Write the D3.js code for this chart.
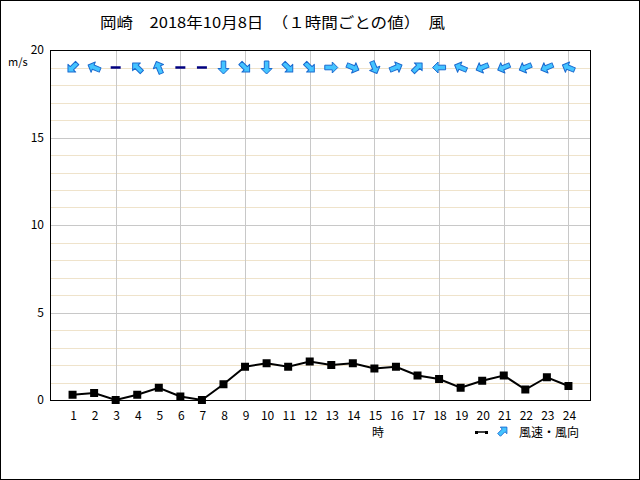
<!DOCTYPE html>
<html><head><meta charset="utf-8">
<script src="https://cdn.jsdelivr.net/npm/d3@7"></script>
<style>html,body{margin:0;padding:0;background:#fff}svg{display:block}</style>
</head><body>
<script>
const hours = ["1","2","3","4","5","6","7","8","9","10","11","12","13","14","15","16","17","18","19","20","21","22","23","24"];
const speed = [0.3,0.4,0.0,0.3,0.7,0.2,0.0,0.9,1.9,2.1,1.9,2.2,2.0,2.1,1.8,1.9,1.4,1.2,0.7,1.1,1.4,0.6,1.3,0.8];
const windFrom = ["NE","ESE","calm","SE","SSE","calm","calm","N","NW","N","NW","NW","W","WNW","NNW","WSW","SW","E","ESE","ENE","ENE","ENE","ENE","ESE"];
const yTicks = [0,5,10,15,20];
const title = "岡崎　2018年10月8日　（１時間ごとの値）　風";
const compass = ["N","NNE","NE","ENE","E","ESE","SE","SSE","S","SSW","SW","WSW","W","WNW","NW","NNW"];

const W = 640, H = 480;
const L = 50, R = 590, T = 50, B = 400;
const font = "'Noto Sans CJK JP', sans-serif";

const svg = d3.select("body").append("svg").attr("width", W).attr("height", H);
svg.append("rect").attr("x",0.5).attr("y",0.5).attr("width",W-1).attr("height",H-1)
  .attr("fill","#fff").attr("stroke","#000");

const x = d3.scaleLinear().domain([0,25]).range([L+1,R]);
const y = d3.scaleLinear().domain([0,20]).range([B,T]);

// grid
const g = svg.append("g");
g.selectAll("line.minor").data(d3.range(1,20).filter(v=>v%5!==0)).join("line").attr("class","minor")
  .attr("x1",L).attr("x2",R).attr("y1",d=>Math.round(y(d))+0.5).attr("y2",d=>Math.round(y(d))+0.5)
  .attr("stroke","#efe3cb");
g.selectAll("line.majorh").data([5,10,15]).join("line").attr("class","majorh")
  .attr("x1",L).attr("x2",R).attr("y1",d=>Math.round(y(d))+0.5).attr("y2",d=>Math.round(y(d))+0.5)
  .attr("stroke","#c8c8c8");
g.selectAll("line.majorv").data(hours.filter(h=>+h%3===0)).join("line").attr("class","majorv")
  .attr("y1",T).attr("y2",B).attr("x1",d=>Math.round(x(+d))+0.5).attr("x2",d=>Math.round(x(+d))+0.5)
  .attr("stroke","#c8c8c8");

// frame
svg.append("rect").attr("x",L+0.5).attr("y",T+0.5).attr("width",R-L).attr("height",B-T)
  .attr("fill","none").attr("stroke","#000");

// y axis labels
svg.append("g").selectAll("text").data(yTicks).join("text")
  .attr("x",44).attr("y",d=>y(d)+4).attr("text-anchor","end")
  .attr("font-family",font).attr("font-size",12).text(d=>d);
svg.append("text").attr("x",8).attr("y",66).attr("font-family",font).attr("font-size",11).text("m/s");

// x labels
svg.append("g").selectAll("text").data(hours).join("text")
  .attr("x",d=>x(+d)+1).attr("y",420).attr("text-anchor","middle")
  .attr("font-family",font).attr("font-size",12).text(d=>d);
svg.append("text").attr("x",378).attr("y",437).attr("text-anchor","middle")
  .attr("font-family",font).attr("font-size",12).text("時");

// title
svg.append("text").attr("x",100).attr("y",28).attr("font-family",font).attr("font-size",15)
  .attr("textLength",345).attr("lengthAdjust","spacingAndGlyphs").text(title);

// line
const line = d3.line().x((d,i)=>x(+hours[i])).y(d=>y(d));
svg.append("path").datum(speed).attr("d",line).attr("fill","none").attr("stroke","#000").attr("stroke-width",2);
svg.append("g").selectAll("rect").data(speed).join("rect")
  .attr("x",(d,i)=>x(+hours[i])-4).attr("y",d=>y(d)-4).attr("width",8).attr("height",8).attr("fill","#000");

// arrows
const arrowPath = "M0,-6.5 L5.5,-1 L2.3,-1 L2.3,6.5 L-2.3,6.5 L-2.3,-1 L-5.5,-1 Z";
const arrowY = y(19);
const ag = svg.append("g");
windFrom.forEach((d,i)=>{
  const cx = x(+hours[i]);
  if (d === "calm") {
    ag.append("line").attr("x1",cx-5).attr("x2",cx+5).attr("y1",arrowY).attr("y2",arrowY)
      .attr("stroke","#000080").attr("stroke-width",2.5);
  } else {
    const ang = compass.indexOf(d)*22.5 + 180;
    ag.append("path").attr("d",arrowPath)
      .attr("transform",`translate(${cx},${arrowY}) rotate(${ang})`)
      .attr("fill","#44c4ff").attr("stroke","#1a6ad0").attr("stroke-width",1).attr("stroke-linejoin","round");
  }
});

// legend
const lg = svg.append("g");
lg.append("line").attr("x1",476).attr("x2",487).attr("y1",432).attr("y2",432).attr("stroke","#000").attr("stroke-width",1.5);
lg.append("rect").attr("x",475).attr("y",431).attr("width",3).attr("height",3).attr("fill","#000");
lg.append("rect").attr("x",485).attr("y",431).attr("width",3).attr("height",3).attr("fill","#000");
lg.append("path").attr("d",arrowPath).attr("transform","translate(503,431) rotate(45) scale(0.85)")
  .attr("fill","#44c4ff").attr("stroke","#1a6ad0").attr("stroke-width",1);
lg.append("text").attr("x",519).attr("y",437).attr("font-family",font).attr("font-size",12).text("風速・風向");
</script>
</body></html>
